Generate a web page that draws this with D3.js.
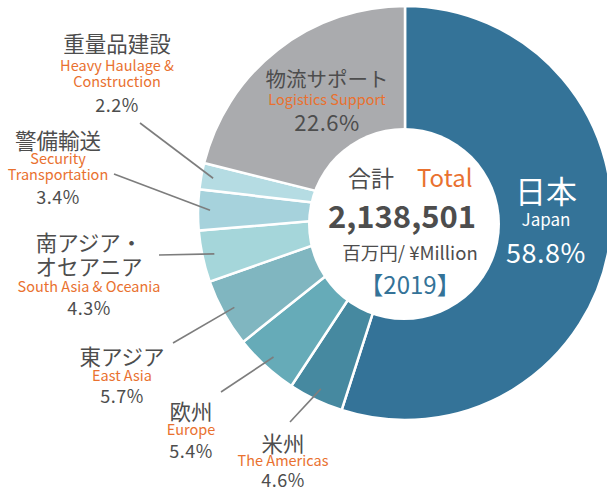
<!DOCTYPE html>
<html>
<head>
<meta charset="utf-8">
<script src="https://cdn.jsdelivr.net/npm/d3@7"></script>
<style>
  body { margin: 0; background: #fff; }
  svg { display: block; font-family: 'Noto Sans CJK JP', 'Noto Sans', sans-serif; }
</style>
</head>
<body>
<svg id="chart" width="607" height="491"></svg>
<script>
// segments, clockwise from 12 o'clock
const namesJa = ['日本', '米州', '欧州', '東アジア', '南アジア・\nオセアニア', '警備輸送', '重量品建設', '物流サポート']
const namesEn = ['Japan', 'The Americas', 'Europe', 'East Asia', 'South Asia & Oceania', 'Security\nTransportation', 'Heavy Haulage &\nConstruction', 'Logistics Support']
const shares = [58.8, 4.6, 5.4, 5.7, 4.3, 3.4, 2.2, 22.6]
const sliceColors = ['#347398', '#4689a0', '#66abb8', '#80b6c0', '#a5d6da', '#a6d2dc', '#b5dce3', '#aaabae']

const totalLabel = '2,138,501'
const unitLabel = '百万円/ ¥Million'
const yearLabel = '【2019】'

// label placement: centre x, y of every text line, leader end point
const labelLayout = [
  { x: 546, ys: [189, 218, 251], inside: true },
  { x: 283, ys: [442, 459, 479], lx: 290, ly: 422 },
  { x: 191, ys: [410, 428, 450], lx: 221, ly: 392 },
  { x: 122, ys: [355, 374, 395], lx: 173, ly: 343 },
  { x: 89, ys: [241, 265, 285, 307], lx: 159, ly: 255 },
  { x: 58, ys: [139, 157, 173, 196], lx: 114, ly: 174 },
  { x: 117, ys: [42, 64, 80, 104], lx: 140, ly: 123 },
  { x: 327, ys: [78, 98, 121], inside: true }
]

const cx = 405
const cy = 213
const outerR = 207
const holeX = 404
const holeY = 224
const holeR = 96

const orange = '#e9712f'
const dark = '#4d4d4d'

const svg = d3.select('#chart')
const g = svg.append('g').attr('transform', `translate(${cx},${cy})`)

const pie = d3.pie().sort(null).value(d => d)
const arcs = pie(shares)

const arc = d3.arc().innerRadius(70).outerRadius(outerR)
const leaderArc = d3.arc().innerRadius(195).outerRadius(195)

g.selectAll('path.slice')
  .data(arcs)
  .enter().append('path')
  .attr('class', 'slice')
  .attr('d', arc)
  .style('fill', (d, i) => sliceColors[i])
  .style('stroke', '#fff')
  .style('stroke-width', 2.5)

// white hole, slightly below the ring centre like the original
svg.append('circle')
  .attr('cx', holeX)
  .attr('cy', holeY)
  .attr('r', holeR)
  .style('fill', '#fff')

// leader lines
arcs.forEach((d, i) => {
  const lay = labelLayout[i]
  if (lay.inside) return
  const p = leaderArc.centroid(d)
  svg.append('line')
    .attr('x1', lay.lx)
    .attr('y1', lay.ly)
    .attr('x2', cx + p[0])
    .attr('y2', cy + p[1])
    .style('stroke', '#7d7d7d')
    .style('stroke-width', 1.6)
})

// labels
arcs.forEach((d, i) => {
  const lay = labelLayout[i]
  const lg = svg.append('g').attr('class', 'label').attr('text-anchor', 'middle')
  const isJapan = i === 0
  const isLogi = i === 7
  const jaSize = isJapan ? 31 : (isLogi ? 20.5 : 21.5)
  const enSize = isJapan ? 17 : 14.5
  const pctSize = isJapan ? 27 : (isLogi ? 22 : 18)
  const jaFill = isJapan ? '#fff' : dark
  const enFill = isJapan ? '#fff' : orange

  const lines = []
  namesJa[i].split('\n').forEach(t => lines.push({ t, size: jaSize, fill: jaFill }))
  namesEn[i].split('\n').forEach(t => lines.push({ t, size: enSize, fill: enFill }))
  lines.push({ t: shares[i].toFixed(1) + '%', size: pctSize, fill: jaFill, pct: true })

  lines.forEach((ln, k) => {
    lg.append('text')
      .attr('x', lay.x)
      .attr('y', lay.ys[k])
      .attr('dominant-baseline', 'central')
      .style('font-size', ln.size + 'px')
      .style('letter-spacing', ln.pct ? '0.5px' : null)
      .style('fill', ln.fill)
      .text(ln.t)
  })
})

// centre texts
const c = svg.append('g').attr('text-anchor', 'middle')
c.append('text')
  .attr('x', 371)
  .attr('y', 177)
  .attr('dominant-baseline', 'central')
  .style('font-size', '23px')
  .style('fill', dark)
  .text('合計')
c.append('text')
  .attr('x', 417)
  .attr('y', 176)
  .attr('text-anchor', 'start')
  .attr('dominant-baseline', 'central')
  .style('font-size', '24px')
  .style('fill', orange)
  .text('Total')

c.append('text')
  .attr('x', 402)
  .attr('y', 214)
  .attr('dominant-baseline', 'central')
  .style('font-size', '31px')
  .style('font-weight', 'bold')
  .style('fill', dark)
  .text(totalLabel)

c.append('text')
  .attr('x', 410)
  .attr('y', 252)
  .attr('dominant-baseline', 'central')
  .style('font-size', '18.5px')
  .style('fill', dark)
  .text(unitLabel)

c.append('text')
  .attr('x', 410)
  .attr('y', 283)
  .attr('dominant-baseline', 'central')
  .style('font-size', '24px')
  .style('fill', '#347398')
  .text(yearLabel)
</script>
</body>
</html>
